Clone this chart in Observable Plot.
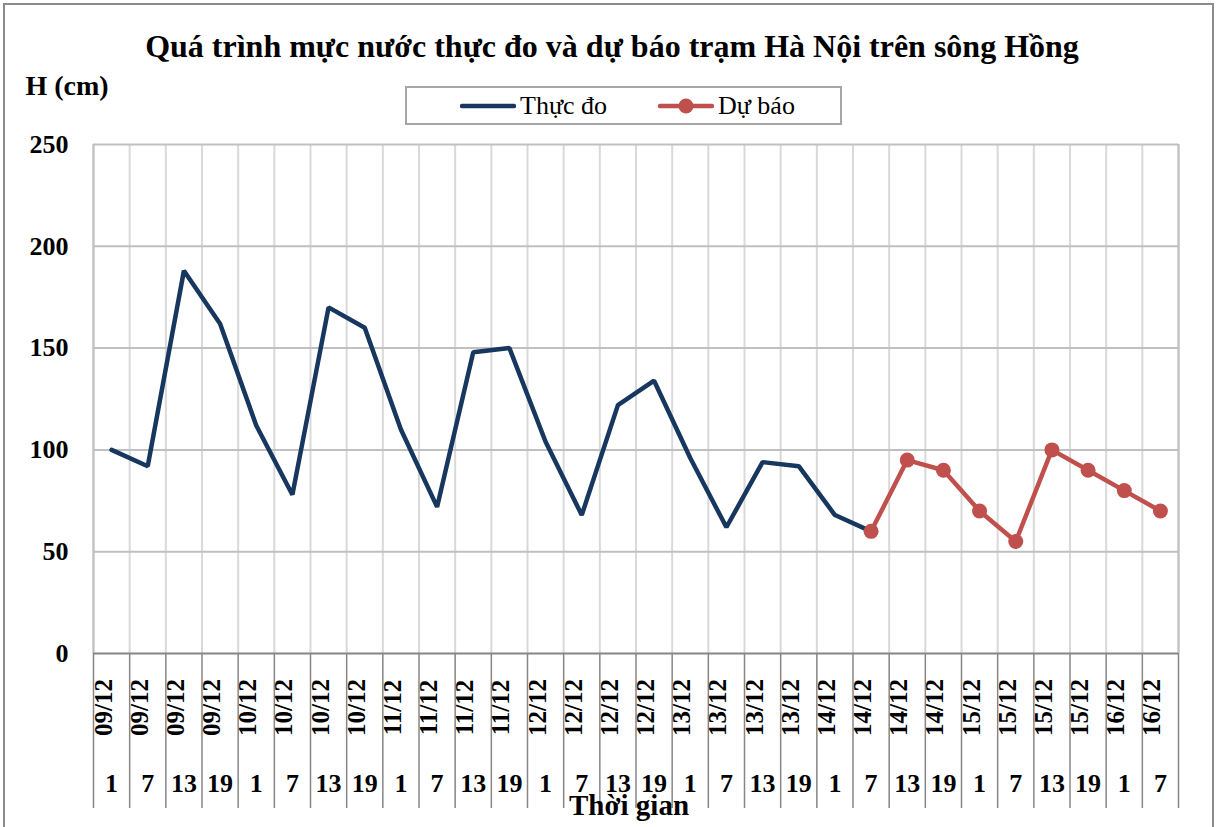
<!DOCTYPE html>
<html>
<head>
<meta charset="utf-8">
<script src="https://cdn.jsdelivr.net/npm/d3@7"></script>
<script src="https://cdn.jsdelivr.net/npm/@observablehq/plot@0.6"></script>
<style>
  html, body { margin: 0; padding: 0; background: #fff; }
  #wrap { position: relative; width: 1219px; height: 827px; overflow: hidden; font-family: "Liberation Serif", "Times New Roman", serif; }
  #frame { position: absolute; left: 3px; top: 3px; width: 1211px; height: 840px; border: 2px solid #8c8c8c; box-sizing: border-box; pointer-events: none; }
  #legend { position: absolute; left: 405px; top: 86px; width: 437px; height: 39px; border: 2px solid #a6a6a6; box-sizing: border-box; background: #fff; }
  .item { position: absolute; top: 0; height: 35px; display: flex; align-items: center; font-size: 26px; color: #000; }
  .item svg { margin-right: 4px; }
</style>
</head>
<body>
<div id="wrap">
  <div id="chart"></div>
  <div id="legend"></div>
  <div id="frame"></div>
</div>
<script>
// ---- data ----
const dates = ["09/12","09/12","09/12","09/12","10/12","10/12","10/12","10/12","11/12","11/12","11/12","11/12","12/12","12/12","12/12","12/12","13/12","13/12","13/12","13/12","14/12","14/12","14/12","14/12","15/12","15/12","15/12","15/12","16/12","16/12"];
const hours = [1,7,13,19,1,7,13,19,1,7,13,19,1,7,13,19,1,7,13,19,1,7,13,19,1,7,13,19,1,7];
const observed = [100,92,188,162,112,78,170,160,110,72,148,150,104,68,122,134,96,62,94,92,68,60];
const forecastStart = 21;
const forecast = [60,95,90,70,55,100,90,80,70];
const yTicks = [0,50,100,150,200,250];
const title = "Quá trình mực nước thực đo và dự báo trạm Hà Nội trên sông Hồng";
const yLabel = "H (cm)";
const xLabel = "Thời gian";
const seriesNames = ["Thực đo", "Dự báo"];
const colors = ["#17375e", "#c0504d"];

// ---- tables ----
const obsData = observed.map((v, i) => ({i, v}));
const fcData = forecast.map((v, k) => ({i: forecastStart + k, v}));
const cats = dates.map((d, i) => ({i, d, h: hours[i]}));
const bounds = d3.range(dates.length + 1);

const font = "Liberation Serif, Times New Roman, serif";

const chart = Plot.plot({
  width: 1219,
  height: 827,
  marginTop: 144,
  marginBottom: 174,
  marginLeft: 93,
  marginRight: 41,
  style: {fontFamily: font, background: "transparent", overflow: "visible"},
  x: {domain: [0, dates.length], axis: null},
  y: {domain: [0, 250], axis: null},
  marks: [
    // vertical gridlines
    Plot.ruleX(bounds, {x: d => d, y1: 0, y2: 250, stroke: "#d9d9d9", strokeWidth: 2}),
    // horizontal gridlines
    Plot.ruleY(yTicks.filter(t => t > 0), {y: d => d, stroke: "#c0c0c0", strokeWidth: 2}),
    // left and right frame
    Plot.ruleX([0, dates.length], {x: d => d, y1: 0, y2: 250, stroke: "#bfbfbf", strokeWidth: 2}),
    // category separators below axis
    Plot.ruleX(bounds, {x: d => d, insetTop: 509, insetBottom: -155, stroke: "#868686", strokeWidth: 1.5}),
    // x axis line
    Plot.ruleY([0], {stroke: "#868686", strokeWidth: 2}),
    // y tick labels
    Plot.text(yTicks, {x: 0, y: d => d, text: d => String(d), textAnchor: "end", dx: -25, fontSize: 26, fontWeight: "bold", fill: "#000"}),
    // date labels
    Plot.text(cats, {x: d => d.i + 0.5, frameAnchor: "bottom", dy: 54, text: "d", rotate: -90, fontSize: 25, fontWeight: "bold", fill: "#000"}),
    // hour labels
    Plot.text(cats, {x: d => d.i + 0.5, frameAnchor: "bottom", dy: 138, text: d => String(d.h), fontSize: 26, fontWeight: "bold", fill: "#000"}),
    // series
    Plot.line(obsData, {x: d => d.i + 0.5, y: "v", stroke: colors[0], strokeWidth: 4.5, strokeLinejoin: "miter"}),
    Plot.line(fcData, {x: d => d.i + 0.5, y: "v", stroke: colors[1], strokeWidth: 4.5}),
    Plot.dot(fcData, {x: d => d.i + 0.5, y: "v", r: 7.5, fill: colors[1], stroke: "none"}),
    // titles
    Plot.text([title], {frameAnchor: "top", dx: -24, dy: -110, fontSize: 32, fontWeight: "bold", fill: "#000"}),
    Plot.text([yLabel], {frameAnchor: "top-left", textAnchor: "start", dx: -68, dy: -69, fontSize: 28, fontWeight: "bold", fill: "#000"}),
    Plot.text([xLabel], {frameAnchor: "bottom", dx: -7, dy: 161, fontSize: 29, fontWeight: "bold", fill: "#000"})
  ]
});
document.getElementById("chart").appendChild(chart);

// legend
const legend = document.getElementById("legend");
const lx = [53, 251];
seriesNames.forEach((name, k) => {
  const item = document.createElement("div");
  item.className = "item";
  item.style.left = lx[k] + "px";
  const marker = k === 1 ? `<circle cx="28" cy="9" r="7.5" fill="${colors[k]}"/>` : "";
  item.innerHTML = `<svg width="56" height="18"><line x1="2" y1="9" x2="54" y2="9" stroke="${colors[k]}" stroke-width="4.5" stroke-linecap="round"/>${marker}</svg><span>${name}</span>`;
  legend.appendChild(item);
});
</script>
</body>
</html>
